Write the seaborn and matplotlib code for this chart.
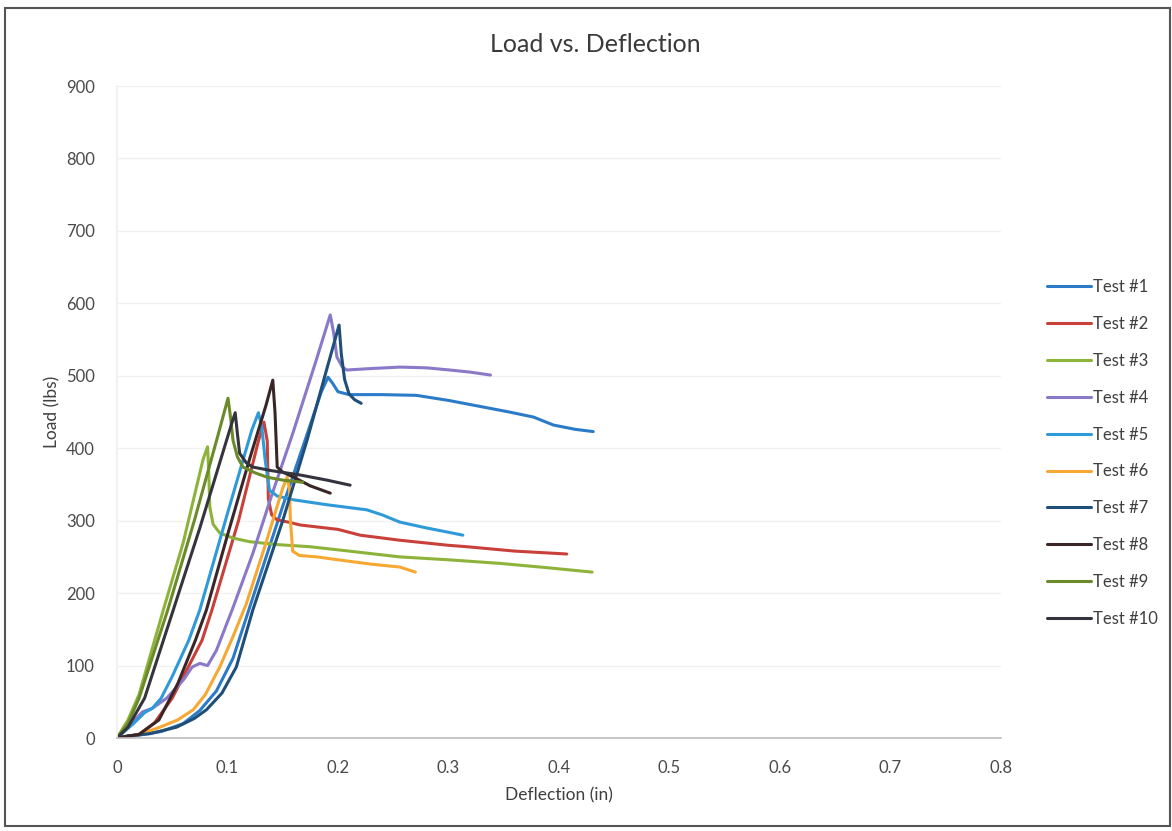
import numpy as np
import pandas as pd
import matplotlib
matplotlib.use("Agg")
import matplotlib.pyplot as plt
import seaborn as sns
from matplotlib.patches import Rectangle

# ---------------- data ----------------
test_names = ["Test #1", "Test #2", "Test #3", "Test #4", "Test #5",
              "Test #6", "Test #7", "Test #8", "Test #9", "Test #10"]

test1_x = [0.0, 0.02, 0.04, 0.06, 0.075, 0.09, 0.105, 0.12, 0.15, 0.17, 0.185, 0.191, 0.195, 0.2, 0.21, 0.24, 0.271, 0.3, 0.331, 0.355, 0.377, 0.395, 0.415, 0.431]
test1_y = [0, 4, 9, 20, 38, 65, 110, 180, 320, 410, 478, 498, 490, 478, 474, 474, 473, 466, 457, 450, 443, 432, 426, 423]

test2_x = [0.0, 0.02, 0.034, 0.05, 0.077, 0.086, 0.11, 0.128, 0.133, 0.136, 0.137, 0.14, 0.145, 0.155, 0.166, 0.2, 0.22, 0.256, 0.3, 0.317, 0.36, 0.407]
test2_y = [0, 5, 21, 55, 135, 177, 300, 410, 436, 410, 330, 308, 301, 298, 294, 288, 280, 273, 266, 264, 258, 254]

test3_x = [0.0, 0.01, 0.02, 0.042, 0.06, 0.078, 0.082, 0.083, 0.084, 0.087, 0.093, 0.105, 0.12, 0.145, 0.175, 0.21, 0.256, 0.3, 0.347, 0.39, 0.43]
test3_y = [0, 25, 60, 177, 270, 385, 402, 370, 319, 295, 283, 276, 271, 267, 264, 258, 250, 246, 241, 235, 229]

test4_x = [0.0, 0.01, 0.023, 0.032, 0.045, 0.06, 0.068, 0.075, 0.082, 0.09, 0.105, 0.123, 0.14, 0.159, 0.18, 0.193, 0.196, 0.199, 0.204, 0.208, 0.23, 0.256, 0.28, 0.301, 0.32, 0.338]
test4_y = [0, 15, 36, 41, 55, 80, 98, 103, 100, 121, 180, 255, 335, 420, 520, 584, 560, 526, 512, 508, 510, 512, 511, 508, 505, 501]

test5_x = [0.0, 0.015, 0.025, 0.032, 0.04, 0.05, 0.065, 0.075, 0.1, 0.122, 0.128, 0.131, 0.134, 0.138, 0.145, 0.159, 0.19, 0.226, 0.24, 0.256, 0.28, 0.3, 0.313]
test5_y = [0, 20, 35, 41, 55, 85, 135, 177, 310, 425, 449, 430, 385, 342, 334, 329, 322, 315, 308, 298, 290, 284, 280]

test6_x = [0.0, 0.02, 0.039, 0.055, 0.069, 0.08, 0.093, 0.105, 0.117, 0.135, 0.15, 0.154, 0.156, 0.157, 0.159, 0.165, 0.181, 0.2, 0.23, 0.256, 0.27]
test6_y = [0, 5, 15, 25, 39, 60, 98, 140, 185, 270, 345, 360, 345, 300, 258, 252, 250, 246, 240, 236, 229]

test7_x = [0.0, 0.01, 0.03, 0.054, 0.07, 0.081, 0.095, 0.108, 0.123, 0.15, 0.172, 0.19, 0.201, 0.203, 0.206, 0.21, 0.215, 0.221]
test7_y = [0, 3, 6, 15, 27, 39, 62, 98, 177, 300, 411, 510, 570, 530, 495, 475, 467, 462]

test8_x = [0.0, 0.02, 0.038, 0.055, 0.071, 0.081, 0.1, 0.12, 0.135, 0.141, 0.143, 0.145, 0.15, 0.16, 0.175, 0.193]
test8_y = [0, 5, 25, 75, 135, 177, 280, 385, 460, 494, 450, 374, 367, 360, 348, 338]

test9_x = [0.0, 0.01, 0.02, 0.046, 0.07, 0.09, 0.098, 0.1005, 0.103, 0.105, 0.109, 0.114, 0.125, 0.136, 0.15, 0.168]
test9_y = [0, 20, 55, 177, 300, 410, 455, 469, 440, 411, 388, 374, 366, 360, 356, 353]

test10_x = [0.0, 0.01, 0.025, 0.051, 0.075, 0.095, 0.104, 0.107, 0.109, 0.111, 0.117, 0.123, 0.14, 0.166, 0.19, 0.211]
test10_y = [0, 15, 55, 177, 290, 390, 435, 449, 420, 393, 380, 374, 369, 363, 356, 349]

x_ticks = [0, 0.1, 0.2, 0.3, 0.4, 0.5, 0.6, 0.7, 0.8]
x_tick_labels = ["0", "0.1", "0.2", "0.3", "0.4", "0.5", "0.6", "0.7", "0.8"]
y_ticks = [0, 100, 200, 300, 400, 500, 600, 700, 800, 900]

series_x = [test1_x, test2_x, test3_x, test4_x, test5_x, test6_x, test7_x, test8_x, test9_x, test10_x]
series_y = [test1_y, test2_y, test3_y, test4_y, test5_y, test6_y, test7_y, test8_y, test9_y, test10_y]

colors = ["#2b7bc8", "#c9403a", "#8db33a", "#8a78c8", "#2e9ad8",
          "#f6a832", "#1f4e79", "#3a2626", "#6b8a2a", "#34343f"]

# ---------------- plot ----------------
sns.set_theme(style="white")
plt.rcParams['font.family'] = ['Lato', 'DejaVu Sans']

fig = plt.figure(figsize=(11.72, 8.31), dpi=100)
ax = fig.add_axes([0.0998, 0.1119, 0.7543, 0.7846])

for name, xs, ys, c in zip(test_names, series_x, series_y, colors):
    df = pd.DataFrame({"Deflection": xs, "Load": ys})
    sns.lineplot(data=df, x="Deflection", y="Load", sort=False, estimator=None,
                 color=c, lw=2.2, label=name, ax=ax)

ax.set_xlim(0, 0.8)
ax.set_ylim(0, 900)
ax.set_xticks(x_ticks)
ax.set_xticklabels(x_tick_labels)
ax.set_yticks(y_ticks)
ax.tick_params(axis="both", length=0, labelsize=12, labelcolor="#4a4a4a")
ax.tick_params(axis="x", pad=16)
ax.tick_params(axis="y", pad=16)

ax.grid(axis="y", color="#f1f1f1", lw=1)
ax.set_axisbelow(True)
for s in ["top", "right"]:
    ax.spines[s].set_visible(False)
ax.spines["bottom"].set_color("#bdbdbd")
ax.spines["bottom"].set_linewidth(1.2)
ax.spines["left"].set_color("#efefef")

ax.set_xlabel("Deflection (in)", fontsize=12.5, color="#3f3f3f", labelpad=8)
ax.set_ylabel("Load (lbs)", fontsize=12.5, color="#3f3f3f", labelpad=4)
fig.text(0.508, 0.946, "Load vs. Deflection", ha="center", va="center",
         fontsize=18, color="#3a3a3a")

leg = ax.legend(loc="upper left", bbox_to_anchor=(0.888, 0.672),
                bbox_transform=fig.transFigure, frameon=False, fontsize=12,
                handlelength=2.6, handletextpad=0.15, labelspacing=1.25,
                borderaxespad=0)
for t in leg.get_texts():
    t.set_color("#3f3f3f")

# outer frame of the scanned chart
fig.patches.append(Rectangle((0.004, 0.006), 0.994, 0.984, transform=fig.transFigure,
                             fill=False, edgecolor="#555555", lw=1.5))

fig.savefig("out.png", dpi=100)
